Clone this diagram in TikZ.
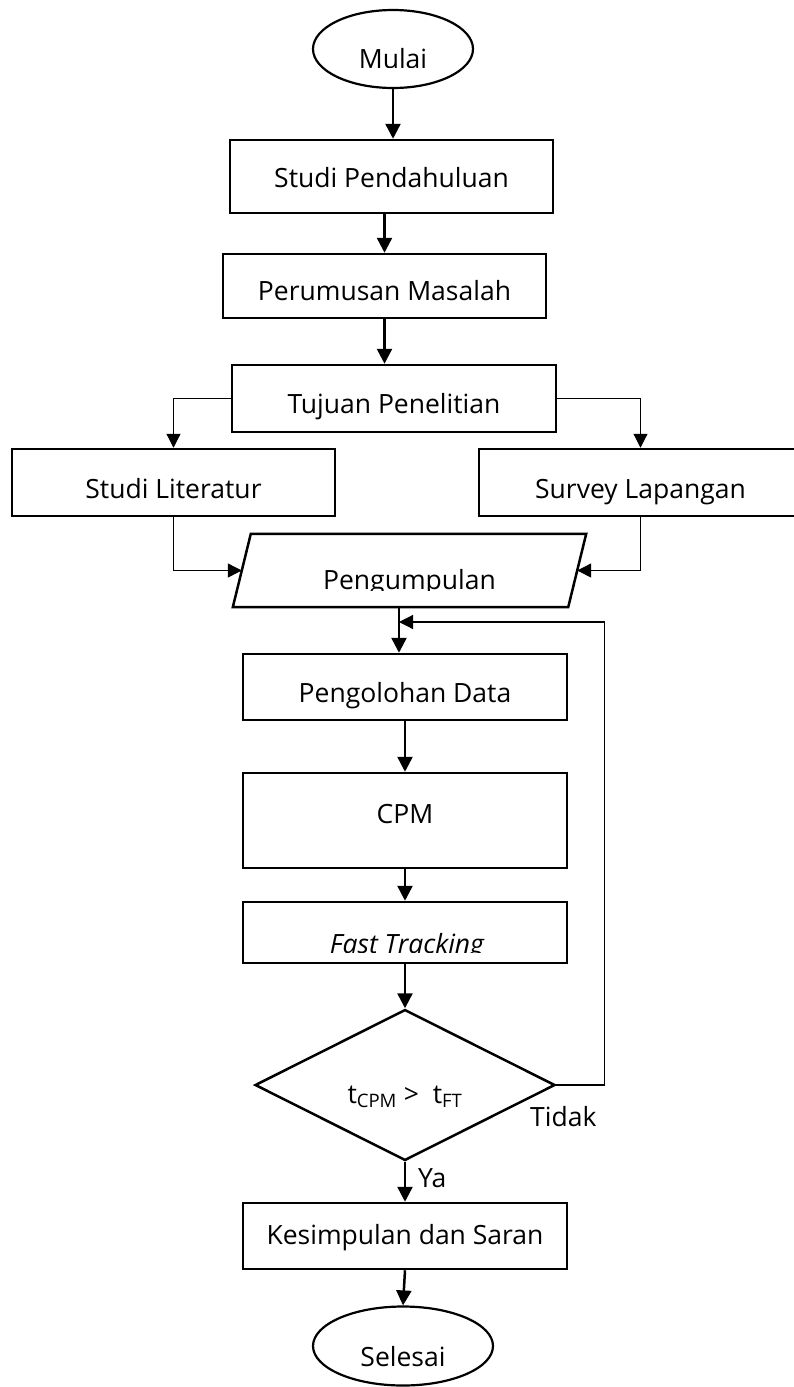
\documentclass[tikz,border=0pt]{standalone}
\usepackage{fontspec}
\setmainfont{Open Sans}
\usetikzlibrary{arrows.meta,shapes.geometric}
\tikzset{
  box/.style={draw, line width=2.5pt, minimum width=323pt, minimum height=66pt, inner sep=0pt, text depth=0pt},
  term/.style={draw, ellipse, line width=2.2pt, inner sep=0pt},
  arr/.style={line width=2.5pt, -{Triangle[width=15pt,length=15pt]}},
  thinarr/.style={line width=1.2pt, -{Triangle[width=14pt,length=14pt]}},
  lbl/.style={inner sep=0pt, anchor=base},
}
\begin{document}
\begin{tikzpicture}[x=1pt,y=-1pt,font=\fontsize{26.5pt}{31pt}\selectfont]
\useasboundingbox (0,0) rectangle (794,1387);
% terminals
\node[term, minimum width=160pt, minimum height=78pt] (mulai) at (393,49) {};
\begin{scope}
  \clip (300,30) rectangle (490,67);
  \node[lbl] (tmulai) at (393,68) {Mulai};
\end{scope}
% boxes
\node[box, minimum height=73pt, text height=21pt] (sp) at (391.5,176.5) {Studi Pendahuluan};
\node[box, minimum height=64pt, text height=28pt] (pm) at (384.5,286) {Perumusan Masalah};
\node[box, minimum width=324pt, minimum height=67pt, text height=29pt] (tp) at (394,398.5) {Tujuan Penelitian};
\node[box, minimum height=67pt, text height=32pt] (sl) at (173.5,482.5) {Studi Literatur};
\node[box, minimum height=67pt, text height=32pt] (sv) at (640.5,482.5) {Survey Lapangan};
% data parallelogram
\node[minimum width=335pt, minimum height=73pt, inner sep=0pt] (pg) at (409.5,570.5) {};
\draw[line width=2.5pt] ([xshift=9pt]pg.north west) -- ([xshift=9pt]pg.north east)
   -- ([xshift=-9pt]pg.south east) -- ([xshift=-9pt]pg.south west) -- cycle;
\begin{scope}
  \clip (300,560) rectangle (520,590);
  \node[lbl] (tpg) at (409.5,589) {Pengumpulan};
\end{scope}
\node[box, minimum width=324pt, minimum height=66pt, text height=30pt] (pd) at (405,687) {Pengolohan Data};
\node[box, minimum width=324pt, minimum height=95pt, text height=5pt] (cpm) at (405,820.5) {CPM};
\node[box, minimum width=324pt, minimum height=61pt] (ft) at (405,932.5) {};
\begin{scope}
  \clip (300,920) rectangle (520,952.5);
  \node[lbl] (tft) at (407,953.5) {\itshape Fast Tracking};
\end{scope}
\node[draw, diamond, line width=2.5pt, minimum width=300pt, minimum height=142pt, inner sep=0pt,
      text height=36pt, text depth=0pt] (dm) at (405,1085) {t\textsubscript{CPM} >\ \ t\textsubscript{FT}};
\node[box, minimum width=324pt, minimum height=66pt, text height=16pt] (ks) at (405,1236) {Kesimpulan dan Saran};
\node[term, minimum width=180pt, minimum height=79pt] (se) at (403,1346) {};
\begin{scope}
  \clip (300,1330) rectangle (500,1367);
  \node[lbl] (tse) at (403,1366) {Selesai};
\end{scope}
% connectors
\coordinate (loopin) at (399,622);
\draw[arr] (mulai.south) -- (mulai.south |- sp.north);
\draw[arr] (pm.north |- sp.south) -- (pm.north);
\draw[arr] (pm.south) -- (pm.south |- tp.north);
\draw[thinarr] (tp.west) -| (sl.north);
\draw[thinarr] (tp.east) -| (sv.north);
\draw[thinarr] (sl.south) |- (pg.west);
\draw[thinarr] (sv.south) |- (pg.east);
\draw[arr] (loopin |- pg.south) -- (loopin |- pd.north);
\draw[arr] (pd.south) -- (cpm.north);
\draw[arr] (cpm.south) -- (ft.north);
\draw[arr] (ft.south) -- (dm.north);
\draw[arr] (dm.south) -- (ks.north);
\draw[arr] (ks.south) -- (se.north);
\draw[thinarr] (dm.east) -- ++(48,0) coordinate (lc) |- (loopin);
\node[lbl, anchor=base west] (ya) at (418,1187) {Ya};
\node[lbl, anchor=base west] (tidak) at (530,1126) {Tidak};
\end{tikzpicture}
\end{document}
